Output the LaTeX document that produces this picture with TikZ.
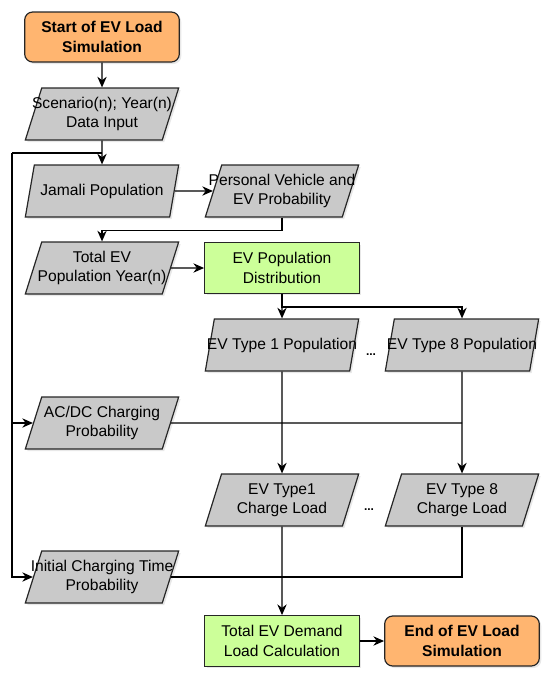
\documentclass[tikz,border=0pt]{standalone}
\usepackage{fontspec}
\setmainfont{Liberation Sans}
\usetikzlibrary{positioning, shapes.geometric, arrows.meta, shadows}

\definecolor{termorange}{HTML}{FFB570}
\definecolor{procgreen}{HTML}{CCFF99}
\definecolor{iogray}{HTML}{C9C9C9}

\begin{document}
\begin{tikzpicture}[
    x=0.75pt, y=-0.75pt,
    base/.style={draw=black!85, line width=0.9pt, align=center,
                 font=\fontsize{11.7}{14.5}\selectfont,
                 drop shadow={opacity=0.18, shadow xshift=1.5pt, shadow yshift=-1.5pt}},
    terminal/.style={base, rounded corners=6pt, fill=termorange,
                     minimum width=116pt, minimum height=37.5pt,
                     font=\bfseries\fontsize{11.7}{14.5}\selectfont},
    process/.style={base, fill=procgreen, minimum width=116pt, minimum height=38pt},
    io/.style={base, trapezium, trapezium left angle=69, trapezium right angle=111,
               trapezium stretches body, fill=iogray, inner xsep=-40pt,
               minimum width=115pt, minimum height=39pt},
    arrow/.style={-{Stealth[length=8pt, width=7pt]}, line width=0.9pt},
    link/.style={line width=0.9pt},
]
\useasboundingbox (0,0) rectangle (550,679);

\node[terminal] (start) at (102, 37) {Start of EV Load\\Simulation};
\node[io] (scen) at (102, 114) {Scenario(n); Year(n)\\Data Input};
\node[io] (jam) at (102, 191) {Jamali Population};
\node[io] (pv) at (282, 191) {Personal Vehicle and\\EV Probability};
\node[io] (tot) at (102, 268) {Total EV\\Population Year(n)};
\node[process] (dist) at (282, 268) {EV Population\\Distribution};
\node[io] (t1p) at (282, 345) {EV Type 1 Population};
\node[io] (t8p) at (462, 345) {EV Type 8 Population};
\node[font=\bfseries\small] (dots1) at (371, 355) {...};
\node[io] (acdc) at (102, 423) {AC/DC Charging\\Probability};
\node[io] (t1c) at (282, 500) {EV Type1\\Charge Load};
\node[io] (t8c) at (462, 500) {EV Type 8\\Charge Load};
\node[font=\bfseries\small] (dots2) at (369, 510) {...};
\node[io] (init) at (102, 577) {Initial Charging Time\\Probability};
\node[process] (tdem) at (282, 641) {Total EV Demand\\Load Calculation};
\node[terminal] (stop) at (462, 641) {End of EV Load\\Simulation};

\coordinate (split) at (102, 153);
\coordinate (bus) at (12, 153);

\draw[arrow] (start) -- (scen);
\draw[arrow] (scen) -- (jam);
\draw[link] (split) -- (bus);
\draw[arrow] (bus) |- (acdc);
\draw[arrow] (bus) |- (init);
\draw[arrow] (jam) -- (pv);
\draw[arrow] (pv.south) -- ++(0, 13) -| (tot.north);
\draw[arrow] (tot) -- (dist);
\draw[arrow] (dist) -- (t1p);
\draw[arrow] (dist.south) -- ++(0, 13) -| (t8p.north);
\draw[arrow] (t1p) -- (t1c);
\draw[arrow] (t8p) -- (t8c);
\draw[link] (acdc) -- (acdc -| t8p.south);
\draw[arrow] (t1c) -- (tdem);
\draw[link] (t8c.south) |- (init);
\draw[arrow] (tdem) -- (stop);
\end{tikzpicture}
\end{document}
